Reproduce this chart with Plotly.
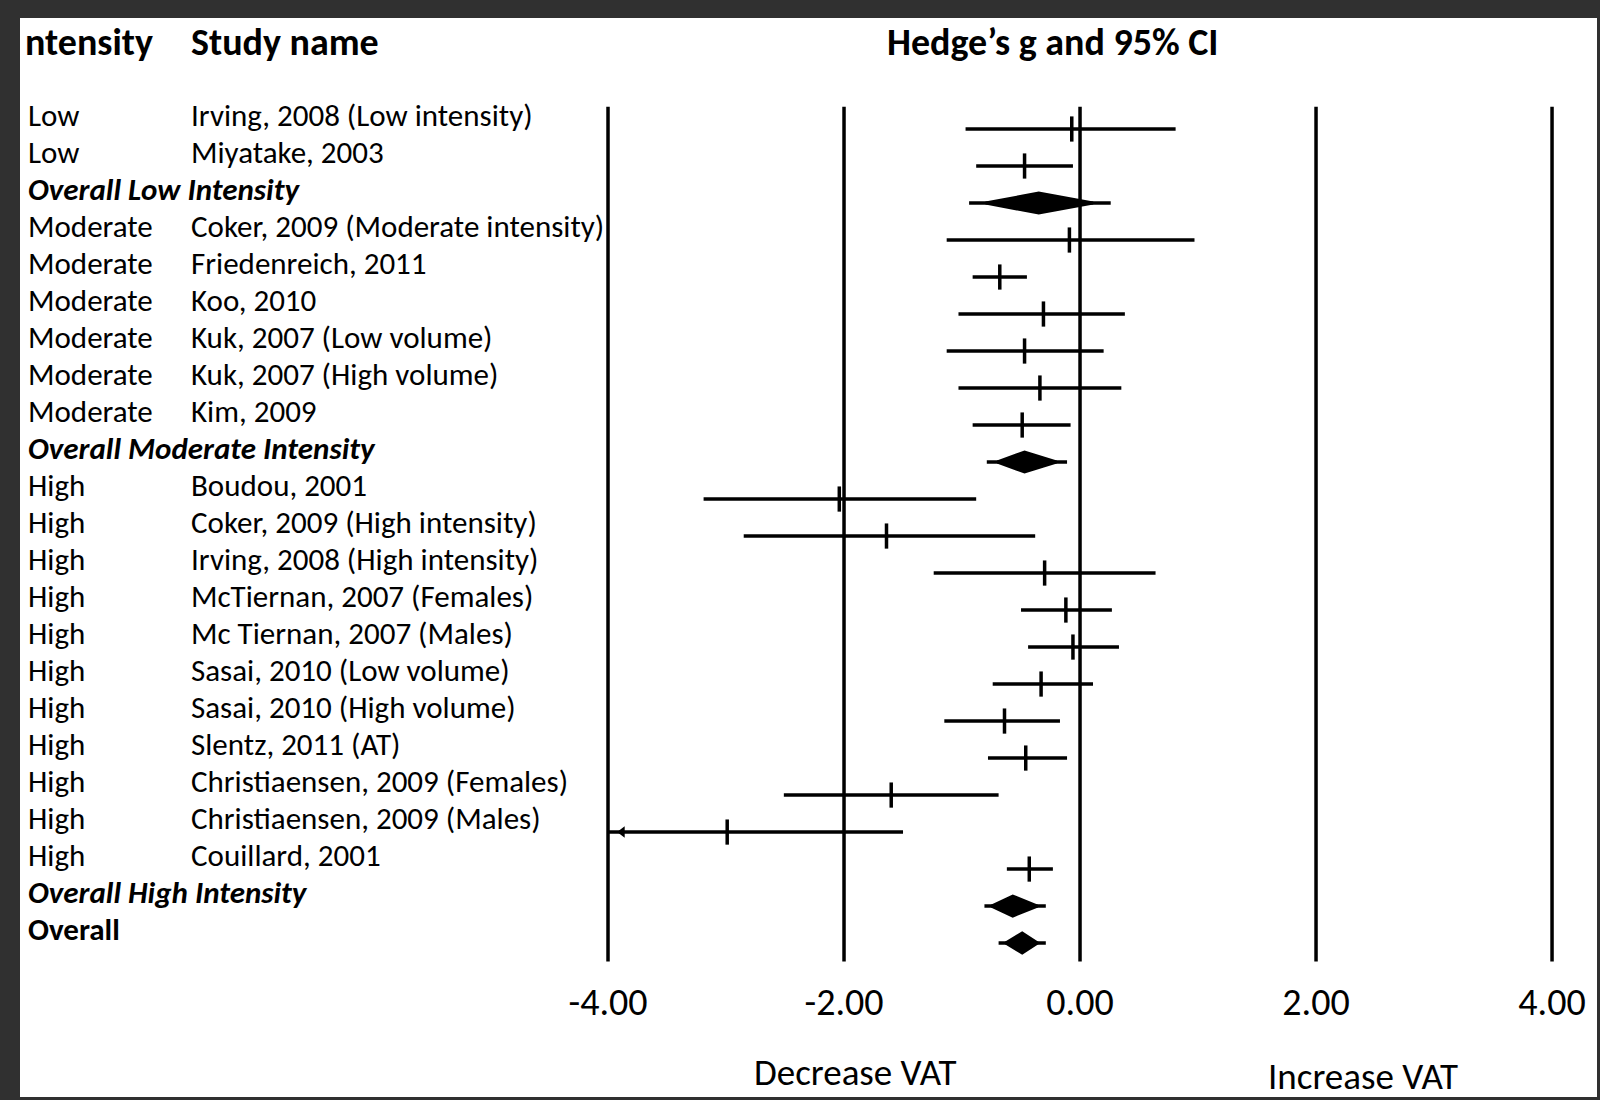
# Forest plot: Hedge's g and 95% CI for visceral adipose tissue (VAT)
import plotly.graph_objects as go

FONT = "Carlito, Lato, sans-serif"

intensity = ["Low", "Low", "", "Moderate", "Moderate", "Moderate", "Moderate",
             "Moderate", "Moderate", "", "High", "High", "High", "High", "High",
             "High", "High", "High", "High", "High", "High", "", ""]
study = ["Irving, 2008 (Low intensity)", "Miyatake, 2003", "Overall Low Intensity",
         "Coker, 2009 (Moderate intensity)", "Friedenreich, 2011", "Koo, 2010",
         "Kuk, 2007 (Low volume)", "Kuk, 2007 (High volume)", "Kim, 2009",
         "Overall Moderate Intensity", "Boudou, 2001", "Coker, 2009 (High intensity)",
         "Irving, 2008 (High intensity)", "McTiernan, 2007 (Females)",
         "Mc Tiernan, 2007 (Males)", "Sasai, 2010 (Low volume)",
         "Sasai, 2010 (High volume)", "Slentz, 2011 (AT)",
         "Christiaensen, 2009 (Females)", "Christiaensen, 2009 (Males)",
         "Couillard, 2001", "Overall High Intensity", "Overall"]
summary_rows = [2, 9, 21, 22]

# Hedge's g, lower and upper 95% CI (lower bound of Christiaensen males is cut at -4)
g = [-0.07, -0.47, -0.35, -0.09, -0.68, -0.31, -0.47, -0.34, -0.49, -0.47,
     -2.04, -1.64, -0.30, -0.12, -0.06, -0.33, -0.64, -0.46, -1.60, -2.99,
     -0.43, -0.57, -0.49]
lo = [-0.97, -0.88, -0.94, -1.13, -0.91, -1.03, -1.13, -1.03, -0.91, -0.79,
      -3.19, -2.85, -1.24, -0.50, -0.44, -0.74, -1.15, -0.78, -2.51, -4.00,
      -0.62, -0.81, -0.69]
hi = [0.81, -0.06, 0.26, 0.97, -0.45, 0.38, 0.20, 0.35, -0.08, -0.11,
      -0.88, -0.38, 0.64, 0.27, 0.33, 0.11, -0.17, -0.11, -0.69, -1.50,
      -0.23, -0.29, -0.29]
# inner (diamond) extent of the summary estimates
dia_lo = [-0.80, -0.70, -0.75, -0.63]
dia_hi = [0.11, -0.20, -0.36, -0.36]

x_ticks = [-4, -2, 0, 2, 4]
x_ticktext = ["-4.00", "-2.00", "0.00", "2.00", "4.00"]

rows = list(range(len(study)))
fig = go.Figure()

# vertical reference lines
for v in x_ticks:
    fig.add_trace(go.Scatter(x=[v, v], y=[-0.6, 22.5], mode="lines",
                             line=dict(color="black", width=3.5), hoverinfo="skip"))

# confidence interval lines
cx, cy = [], []
for i in rows:
    cx += [lo[i], hi[i], None]
    cy += [i, i, None]
fig.add_trace(go.Scatter(x=cx, y=cy, mode="lines", line=dict(color="black", width=3.5),
                         hoverinfo="skip"))

# study point estimates
st = [i for i in rows if i not in summary_rows]
fig.add_trace(go.Scatter(x=[g[i] for i in st], y=st, mode="markers",
                         marker=dict(symbol="line-ns", size=18,
                                     line=dict(color="black", width=3.5)),
                         text=[study[i] for i in st]))

# arrow for the truncated interval
fig.add_trace(go.Scatter(x=[-3.88], y=[19], mode="markers",
                         marker=dict(symbol="triangle-left", size=10, color="black")))

# summary diamonds
for k, i in enumerate(summary_rows):
    h = 0.27
    fig.add_trace(go.Scatter(x=[dia_lo[k], g[i], dia_hi[k], g[i], dia_lo[k]],
                             y=[i, i - h, i, i + h, i], mode="lines", fill="toself",
                             fillcolor="black", line=dict(color="black", width=3),
                             text=study[i]))

# table text
ROW_SIZE = 31
for i in rows:
    y = i - 0.38
    if i in summary_rows:
        label = study[i] if i == 22 else "<i>" + study[i] + "</i>"
        fig.add_annotation(x=0.0035, y=y, xref="paper", yref="y", text="<b>" + label + "</b>",
                           showarrow=False, xanchor="left", font=dict(size=ROW_SIZE))
    else:
        fig.add_annotation(x=0.0035, y=y, xref="paper", yref="y", text=intensity[i],
                           showarrow=False, xanchor="left", font=dict(size=ROW_SIZE))
        fig.add_annotation(x=0.1072, y=y, xref="paper", yref="y", text=study[i],
                           showarrow=False, xanchor="left", font=dict(size=ROW_SIZE))

# headers
for txt, xp in [("ntensity", 0.0017), ("Study name", 0.1072)]:
    fig.add_annotation(x=xp, y=-2.35, xref="paper", yref="y", text="<b>" + txt + "</b>",
                       showarrow=False, xanchor="left", font=dict(size=38))
fig.add_annotation(x=-0.23, y=-2.35, xref="x", yref="y", text="<b>Hedge’s g and 95% CI</b>",
                   showarrow=False, font=dict(size=38))

fig.add_annotation(x=-1.91, y=25.5, xref="x", yref="y", text="Decrease VAT",
                   showarrow=False, font=dict(size=37))
fig.add_annotation(x=2.4, y=25.6, xref="x", yref="y", text="Increase VAT",
                   showarrow=False, font=dict(size=37))

fig.update_layout(
    width=1600, height=1100,
    margin=dict(l=20, r=3, t=18, b=3),
    paper_bgcolor="#303030", plot_bgcolor="white",
    showlegend=False,
    font=dict(family=FONT, color="black"),
    xaxis=dict(range=[-8.983, 4.381], tickvals=x_ticks, ticktext=x_ticktext,
               showgrid=False, zeroline=False, showline=False, ticks="",
               anchor="free", position=0.112, tickfont=dict(size=38)),
    yaxis=dict(range=[26.16, -3.0], visible=False),
)

fig.write_html("out.html", config={"displayModeBar": False},
               post_script="document.body.style.margin='0';"
                           "document.body.style.background='#303030';")
